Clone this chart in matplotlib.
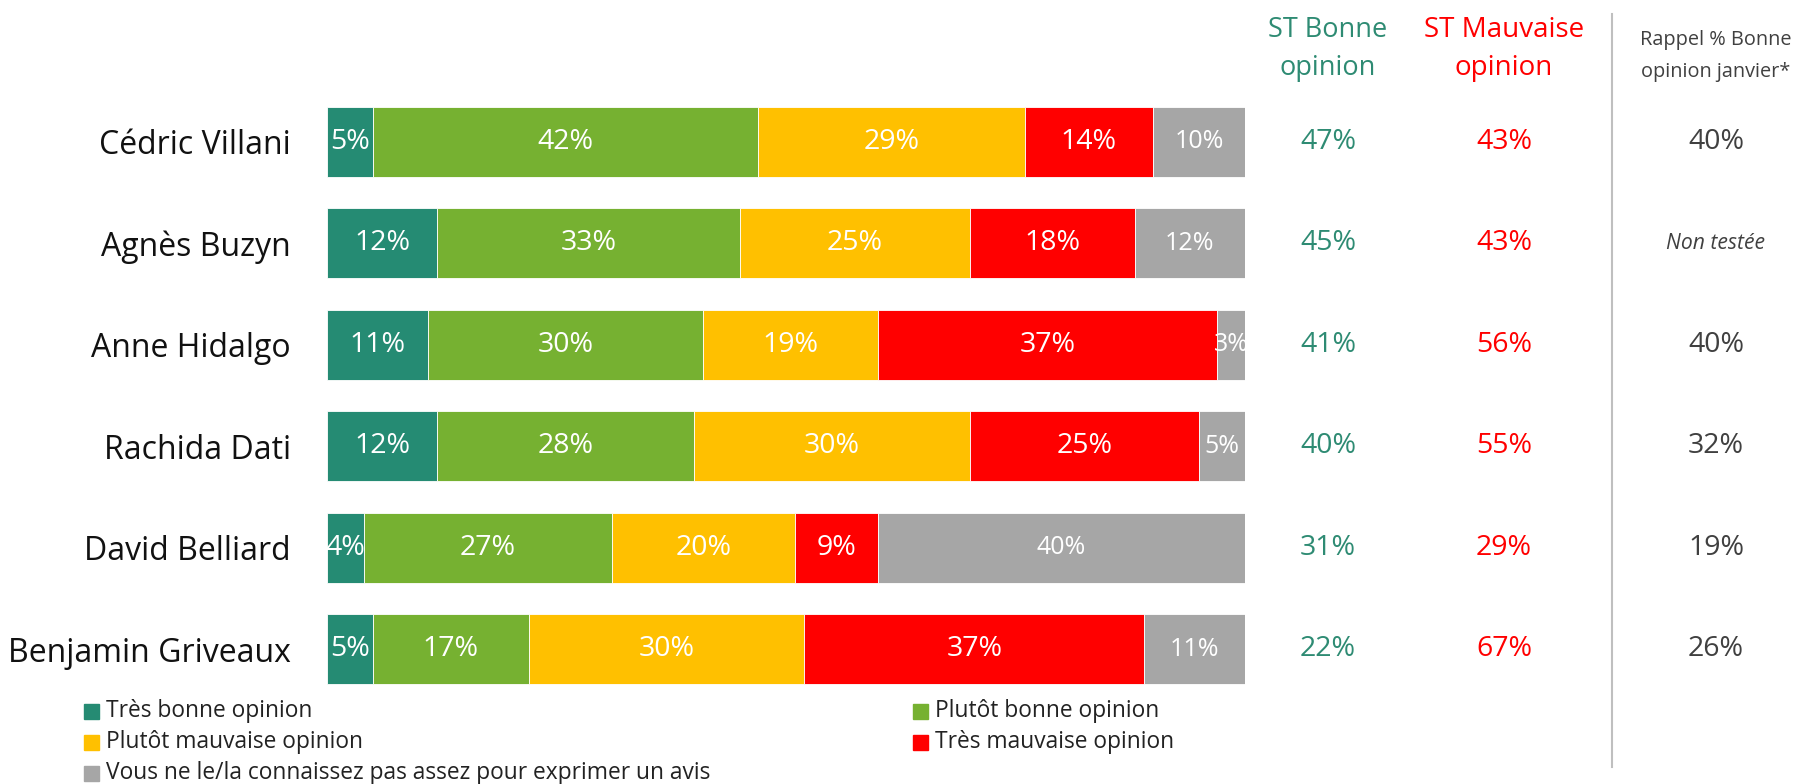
import matplotlib.pyplot as plt
import matplotlib.transforms as mtransforms
from matplotlib.patches import Rectangle
import numpy as np

plt.rcParams['font.family'] = ['Open Sans', 'DejaVu Sans']

# data
names = ["Cédric Villani", "Agnès Buzyn", "Anne Hidalgo",
         "Rachida Dati", "David Belliard", "Benjamin Griveaux"]
tres_bonne = [5, 12, 11, 12, 4, 5]
plutot_bonne = [42, 33, 30, 28, 27, 17]
plutot_mauvaise = [29, 25, 19, 30, 20, 30]
tres_mauvaise = [14, 18, 37, 25, 9, 37]
ne_connait_pas = [10, 12, 3, 5, 40, 11]

st_bonne = [47, 45, 41, 40, 31, 22]
st_mauvaise = [43, 43, 56, 55, 29, 67]
rappel_janvier = ["40%", "Non testée", "40%", "32%", "19%", "26%"]

series_labels = ["Très bonne opinion", "Plutôt bonne opinion",
                 "Plutôt mauvaise opinion", "Très mauvaise opinion",
                 "Vous ne le/la connaissez pas assez pour exprimer un avis"]
colors = ["#258B73", "#76B131", "#FFC000", "#FF0000", "#A6A6A6"]

W, H = 1797, 784
fig = plt.figure(figsize=(W / 100, H / 100), dpi=100)

# axes placed so bars span x 327..1245 px, rows centred 142..649 px
ax = fig.add_axes([327 / W, 1 - 700 / H, 918 / W, 609 / H])

series = [tres_bonne, plutot_bonne, plutot_mauvaise, tres_mauvaise, ne_connait_pas]
y = np.arange(len(names))
left = np.zeros(len(names))
for i, vals in enumerate(series):
    vals = np.array(vals)
    ax.barh(y, vals, left=left, height=0.69, color=colors[i],
            edgecolor="white", linewidth=0.6)
    for yy, l, v in zip(y, left, vals):
        ax.text(l + v / 2, yy, f"{v}%", ha="center", va="center",
                color="white", fontsize=18 if i == 4 else 20.5)
    left += vals

ax.set_xlim(0, 100)
ax.set_ylim(len(names) - 0.5, -0.5)
ax.set_yticks(y)
ax.set_yticklabels(names, fontsize=23, color="#111111")
ax.tick_params(axis="y", length=0, pad=26)
ax.set_xticks([])
for s in ax.spines.values():
    s.set_visible(False)

# right-hand columns
trans = mtransforms.blended_transform_factory(fig.transFigure, ax.transData)
green_txt = "#2E8B73"
red_txt = "#FF0000"
grey_txt = "#404040"
x_bonne, x_mauvaise, x_rappel = 1328 / W, 1504 / W, 1716 / W
for yy, b, m, r in zip(y, st_bonne, st_mauvaise, rappel_janvier):
    ax.text(x_bonne, yy, f"{b}%", transform=trans, ha="center", va="center",
            fontsize=20.5, color=green_txt)
    ax.text(x_mauvaise, yy, f"{m}%", transform=trans, ha="center", va="center",
            fontsize=20.5, color=red_txt)
    if r == "Non testée":
        ax.text(x_rappel, yy, r, transform=trans, ha="center", va="center",
                fontsize=15.2, color=grey_txt, style="italic")
    else:
        ax.text(x_rappel, yy, r, transform=trans, ha="center", va="center",
                fontsize=20.5, color=grey_txt)

# headers
fig.text(x_bonne, 1 - 49 / H, "ST Bonne\nopinion", ha="center", va="center",
         fontsize=19.5, color=green_txt, linespacing=1.5)
fig.text(x_mauvaise, 1 - 49 / H, "ST Mauvaise\nopinion", ha="center", va="center",
         fontsize=20, color=red_txt, linespacing=1.5)
fig.text(x_rappel, 1 - 56 / H, "Rappel % Bonne\nopinion janvier*", ha="center",
         va="center", fontsize=14.3, color=grey_txt, linespacing=1.75)

# separator line
fig.add_artist(plt.Line2D([1612 / W, 1612 / W], [1 - 14 / H, 1 - 767 / H],
                          color="#BFBFBF", linewidth=1.5))

# legend
leg_pos = [(84, 711), (913, 711), (84, 742), (913, 742), (84, 773)]
for (px, py), lab, c in zip(leg_pos, series_labels, colors):
    fig.add_artist(Rectangle((px / W, 1 - (py + 8) / H), 15 / W, 15 / H,
                             transform=fig.transFigure, color=c))
    fig.text((px + 22) / W, 1 - py / H, lab, ha="left", va="center",
             fontsize=16.4, color="#222222")

fig.savefig("out.png", dpi=100)
